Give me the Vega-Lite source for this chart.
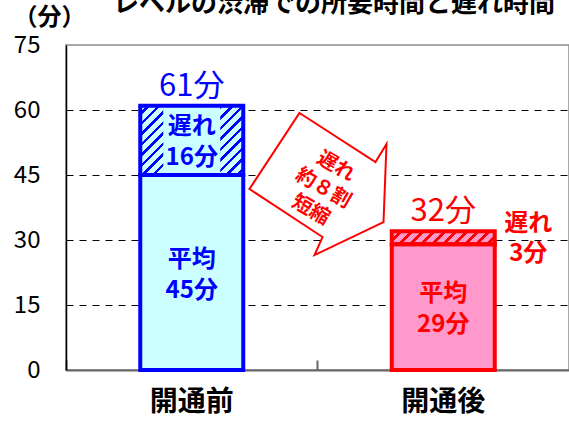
{
  "$schema": "https://vega.github.io/schema/vega-lite/v6.json",
  "autosize": {"type": "none"},
  "padding": {"left": 66, "top": 45, "right": 0, "bottom": 57},
  "width": 503,
  "height": 325,
  "config": {
    "font": "Noto Sans CJK JP",
    "view": {"stroke": "#8c8c8c", "strokeWidth": 1.5}
  },
  "datasets": {
    "bars": [
      {"phase": "開通前", "part": "平均", "start": 0, "end": 45, "value": 45},
      {"phase": "開通前", "part": "遅れ", "start": 45, "end": 61, "value": 16},
      {"phase": "開通後", "part": "平均", "start": 0, "end": 29, "value": 29},
      {"phase": "開通後", "part": "遅れ", "start": 29, "end": 32, "value": 3}
    ]
  },
  "layer": [
    {
      "data": {"name": "bars"},
      "transform": [
        {"calculate": "datum.part + '\\n' + datum.value + '分'", "as": "label"},
        {"calculate": "datum.end + '分'", "as": "total"},
        {"calculate": "(datum.start + datum.end) / 2", "as": "mid"}
      ],
      "encoding": {
        "x": {
          "field": "phase", "type": "nominal", "sort": ["開通前", "開通後"],
          "scale": {"paddingInner": 0, "paddingOuter": 0},
          "axis": {
            "title": null, "labelAngle": 0, "bandPosition": 0,
            "domainColor": "#666666", "domainWidth": 2,
            "tickColor": "#666666", "tickWidth": 2, "tickSize": -10,
            "labelFontSize": 28, "labelFontWeight": "bold", "labelColor": "#000000",
            "labelPadding": 28, "grid": false
          }
        },
        "y": {
          "field": "start", "type": "quantitative",
          "scale": {"domain": [0, 75], "nice": false},
          "axis": {
            "title": "（分）", "titleAngle": 0, "titleX": -17, "titleY": -28,
            "titleAlign": "center", "titleBaseline": "middle",
            "titleFontSize": 24, "titleFontWeight": "bold", "titleColor": "#000000",
            "values": [0, 15, 30, 45, 60, 75], "ticks": false,
            "domainColor": "#000000", "domainWidth": 1.5,
            "labelFontSize": 24, "labelColor": "#000000", "labelPadding": 26,
            "grid": true, "gridDash": [7, 6], "gridWidth": 1,
            "gridColor": {"condition": {"test": "datum.value === 75", "value": "transparent"}, "value": "#000000"}
          }
        },
        "y2": {"field": "end"}
      },
      "layer": [
        {
          "transform": [{"filter": "datum.part === '平均'"}],
          "mark": {"type": "bar", "size": 103},
          "encoding": {
            "fill": {"field": "phase", "type": "nominal", "scale": {"domain": ["開通前", "開通後"], "range": ["#ccffff", "#ff99cc"]}, "legend": null}
          }
        },
        {
          "transform": [{"filter": "datum.part === '遅れ' && datum.phase === '開通前'"}],
          "mark": {
            "type": "bar", "size": 103,
            "fill": {
              "gradient": "linear", "x1": 0, "y1": 0, "x2": 1.1514, "y2": 0.775,
              "stops": [
                {"offset": 0, "color": "#ccffff"},
                {"offset": 0.0406, "color": "#ccffff"}, {"offset": 0.0406, "color": "#0000ff"}, {"offset": 0.0609, "color": "#0000ff"}, {"offset": 0.0609, "color": "#ccffff"},
                {"offset": 0.1015, "color": "#ccffff"}, {"offset": 0.1015, "color": "#0000ff"}, {"offset": 0.1218, "color": "#0000ff"}, {"offset": 0.1218, "color": "#ccffff"},
                {"offset": 0.1624, "color": "#ccffff"}, {"offset": 0.1624, "color": "#0000ff"}, {"offset": 0.1827, "color": "#0000ff"}, {"offset": 0.1827, "color": "#ccffff"},
                {"offset": 0.2233, "color": "#ccffff"}, {"offset": 0.2233, "color": "#0000ff"}, {"offset": 0.2436, "color": "#0000ff"}, {"offset": 0.2436, "color": "#ccffff"},
                {"offset": 0.2842, "color": "#ccffff"}, {"offset": 0.2842, "color": "#0000ff"}, {"offset": 0.3045, "color": "#0000ff"}, {"offset": 0.3045, "color": "#ccffff"},
                {"offset": 0.3451, "color": "#ccffff"}, {"offset": 0.3451, "color": "#0000ff"}, {"offset": 0.3654, "color": "#0000ff"}, {"offset": 0.3654, "color": "#ccffff"},
                {"offset": 0.406, "color": "#ccffff"}, {"offset": 0.406, "color": "#0000ff"}, {"offset": 0.4263, "color": "#0000ff"}, {"offset": 0.4263, "color": "#ccffff"},
                {"offset": 0.4669, "color": "#ccffff"}, {"offset": 0.4669, "color": "#0000ff"}, {"offset": 0.4872, "color": "#0000ff"}, {"offset": 0.4872, "color": "#ccffff"},
                {"offset": 0.5278, "color": "#ccffff"}, {"offset": 0.5278, "color": "#0000ff"}, {"offset": 0.5481, "color": "#0000ff"}, {"offset": 0.5481, "color": "#ccffff"},
                {"offset": 0.5887, "color": "#ccffff"}, {"offset": 0.5887, "color": "#0000ff"}, {"offset": 0.609, "color": "#0000ff"}, {"offset": 0.609, "color": "#ccffff"},
                {"offset": 0.6496, "color": "#ccffff"}, {"offset": 0.6496, "color": "#0000ff"}, {"offset": 0.6699, "color": "#0000ff"}, {"offset": 0.6699, "color": "#ccffff"},
                {"offset": 0.7105, "color": "#ccffff"}, {"offset": 0.7105, "color": "#0000ff"}, {"offset": 0.7308, "color": "#0000ff"}, {"offset": 0.7308, "color": "#ccffff"},
                {"offset": 0.7714, "color": "#ccffff"}, {"offset": 0.7714, "color": "#0000ff"}, {"offset": 0.7917, "color": "#0000ff"}, {"offset": 0.7917, "color": "#ccffff"},
                {"offset": 0.8323, "color": "#ccffff"}, {"offset": 0.8323, "color": "#0000ff"}, {"offset": 0.8526, "color": "#0000ff"}, {"offset": 0.8526, "color": "#ccffff"},
                {"offset": 0.8932, "color": "#ccffff"}, {"offset": 0.8932, "color": "#0000ff"}, {"offset": 0.9135, "color": "#0000ff"}, {"offset": 0.9135, "color": "#ccffff"},
                {"offset": 0.9541, "color": "#ccffff"}, {"offset": 0.9541, "color": "#0000ff"}, {"offset": 0.9744, "color": "#0000ff"}, {"offset": 0.9744, "color": "#ccffff"},
                {"offset": 1, "color": "#ccffff"}
              ]
            }
          }
        },
        {
          "transform": [{"filter": "datum.part === '遅れ' && datum.phase === '開通後'"}],
          "mark": {
            "type": "bar", "size": 103,
            "fill": {
              "gradient": "linear", "x1": 0, "y1": 0, "x2": 1.1086, "y2": 0.1399,
              "stops": [
                {"offset": 0, "color": "#ff99cc"},
                {"offset": 0.0646, "color": "#ff99cc"}, {"offset": 0.0646, "color": "#ff0000"}, {"offset": 0.0948, "color": "#ff0000"}, {"offset": 0.0948, "color": "#ff99cc"},
                {"offset": 0.1594, "color": "#ff99cc"}, {"offset": 0.1594, "color": "#ff0000"}, {"offset": 0.1896, "color": "#ff0000"}, {"offset": 0.1896, "color": "#ff99cc"},
                {"offset": 0.2542, "color": "#ff99cc"}, {"offset": 0.2542, "color": "#ff0000"}, {"offset": 0.2844, "color": "#ff0000"}, {"offset": 0.2844, "color": "#ff99cc"},
                {"offset": 0.349, "color": "#ff99cc"}, {"offset": 0.349, "color": "#ff0000"}, {"offset": 0.3792, "color": "#ff0000"}, {"offset": 0.3792, "color": "#ff99cc"},
                {"offset": 0.4438, "color": "#ff99cc"}, {"offset": 0.4438, "color": "#ff0000"}, {"offset": 0.474, "color": "#ff0000"}, {"offset": 0.474, "color": "#ff99cc"},
                {"offset": 0.5386, "color": "#ff99cc"}, {"offset": 0.5386, "color": "#ff0000"}, {"offset": 0.5688, "color": "#ff0000"}, {"offset": 0.5688, "color": "#ff99cc"},
                {"offset": 0.6334, "color": "#ff99cc"}, {"offset": 0.6334, "color": "#ff0000"}, {"offset": 0.6636, "color": "#ff0000"}, {"offset": 0.6636, "color": "#ff99cc"},
                {"offset": 0.7282, "color": "#ff99cc"}, {"offset": 0.7282, "color": "#ff0000"}, {"offset": 0.7584, "color": "#ff0000"}, {"offset": 0.7584, "color": "#ff99cc"},
                {"offset": 0.823, "color": "#ff99cc"}, {"offset": 0.823, "color": "#ff0000"}, {"offset": 0.8532, "color": "#ff0000"}, {"offset": 0.8532, "color": "#ff99cc"},
                {"offset": 0.9178, "color": "#ff99cc"}, {"offset": 0.9178, "color": "#ff0000"}, {"offset": 0.948, "color": "#ff0000"}, {"offset": 0.948, "color": "#ff99cc"},
                {"offset": 1, "color": "#ff99cc"}
              ]
            }
          }
        },
        {
          "transform": [{"filter": "datum.part === '遅れ' && datum.phase === '開通前'"}],
          "mark": {"type": "bar", "size": 57, "fill": "#ccffff"}
        },
        {
          "mark": {"type": "bar", "size": 103, "fill": "transparent", "strokeWidth": 4},
          "encoding": {
            "stroke": {"field": "phase", "type": "nominal", "scale": {"domain": ["開通前", "開通後"], "range": ["#0000ff", "#ff0000"]}, "legend": null}
          }
        },
        {
          "transform": [{"filter": "datum.part === '遅れ'"}],
          "mark": {"type": "text", "fontSize": 31, "baseline": "middle", "align": "center", "dy": -19},
          "encoding": {
            "y": {"field": "end", "type": "quantitative"},
            "y2": null,
            "text": {"field": "total"},
            "color": {"field": "phase", "type": "nominal", "scale": {"domain": ["開通前", "開通後"], "range": ["#0000ff", "#ff0000"]}, "legend": null}
          }
        },
        {
          "transform": [{"filter": "datum.part === '平均' || datum.phase === '開通前'"}],
          "mark": {"type": "text", "fontSize": 24, "fontWeight": "bold", "baseline": "middle", "align": "center", "lineBreak": "\n", "lineHeight": 31, "dy": -13},
          "encoding": {
            "y": {"field": "mid", "type": "quantitative"},
            "y2": null,
            "text": {"field": "label"},
            "color": {"field": "phase", "type": "nominal", "legend": null}
          }
        },
        {
          "transform": [{"filter": "datum.part === '遅れ' && datum.phase === '開通後'"}],
          "mark": {"type": "text", "fontSize": 24, "fontWeight": "bold", "baseline": "middle", "align": "center", "lineBreak": "\n", "lineHeight": 30, "dx": 85, "dy": -14},
          "encoding": {
            "y": {"field": "mid", "type": "quantitative"},
            "y2": null,
            "text": {"field": "label"},
            "color": {"field": "phase", "type": "nominal", "legend": null}
          }
        }
      ]
    },
    {
      "data": {"values": [{"note": "遅れ\n約８割\n短縮", "title": "レベルの渋滞での所要時間と遅れ時間"}]},
      "layer": [
        {
          "mark": {
            "type": "point", "filled": true, "fill": "#ffffff", "fillOpacity": 1,
            "stroke": "#ff0000", "strokeWidth": 2, "strokeOpacity": 1, "size": 22500,
            "shape": "M-0.24,-0.947L0.773,-0.293L0.92,-0.533L0.88,0.507L-0.04,0.947L0.067,0.707L-0.907,0.067Z"
          },
          "encoding": {
            "x": {"datum": 0.5, "type": "quantitative", "scale": {"domain": [0, 1]}, "axis": null},
            "y": {"datum": 42.92, "type": "quantitative"}
          }
        },
        {
          "mark": {"type": "text", "fontSize": 20, "fontWeight": "bold", "color": "#ff0000", "angle": 30, "align": "center", "baseline": "middle", "lineBreak": "\n", "lineHeight": 25, "dy": -25},
          "encoding": {
            "x": {"datum": 0.5115, "type": "quantitative", "scale": {"domain": [0, 1]}, "axis": null},
            "y": {"datum": 41.93, "type": "quantitative"},
            "text": {"field": "note"}
          }
        },
        {
          "mark": {"type": "text", "fontSize": 26, "fontWeight": "bold", "color": "#000000", "align": "center", "baseline": "alphabetic"},
          "encoding": {
            "x": {"datum": 0.533, "type": "quantitative", "scale": {"domain": [0, 1]}, "axis": null},
            "y": {"datum": 82.6, "type": "quantitative"},
            "text": {"field": "title"}
          }
        }
      ]
    }
  ],
  "resolve": {"scale": {"x": "independent"}}
}
